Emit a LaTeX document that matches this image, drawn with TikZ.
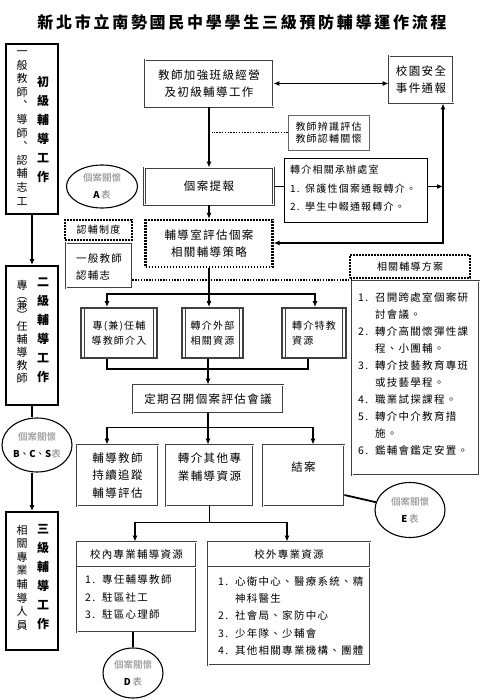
\documentclass[tikz,border=0pt]{standalone}
\usepackage{fontspec}
\setmainfont{Noto Sans CJK TC}
\newfontfamily\wide{Noto Sans CJK TC}[LetterSpace=12]
\newfontfamily\titlefont{Noto Sans CJK TC}[LetterSpace=17]
\usetikzlibrary{shapes.geometric,arrows.meta}

\tikzset{
  conn/.style={line width=1.8pt},
  arr/.style={conn,-{Latex[length=6pt,width=5pt]}},
  darr/.style={conn,{Latex[length=6pt,width=5pt]}-{Latex[length=6pt,width=5pt]}},
  dotline/.style={line width=1.8pt, dash pattern=on 1.4pt off 1.4pt},
  dotbox/.style={draw, line width=2.2pt, dash pattern=on 1.6pt off 1.4pt, inner sep=0, align=center},
  dline/.style={draw=black!75, line width=0.8pt, double=white, double distance=1pt},
  dbox/.style={dline, inner sep=0, align=center},
  lbox/.style={draw, line width=1.8pt, minimum width=52, inner sep=0},
  tbox/.style={draw, line width=0.6pt, inner sep=0, align=center},
  pbox/.style={draw=black!75, line width=1.8pt, inner sep=0, align=center,
    path picture={
      \draw[line width=0.8pt]
        ([xshift=3.5pt]path picture bounding box.north west) -- ([xshift=3.5pt]path picture bounding box.south west)
        ([xshift=-3.5pt]path picture bounding box.north east) -- ([xshift=-3.5pt]path picture bounding box.south east);
    }},
  case/.style={ellipse, draw, line width=1.1pt, inner sep=0, align=center, font=\fontsize{9.5}{17}\selectfont},
  vcol/.style={inner sep=0, align=center},
  boxtext/.style={font=\wide\fontsize{11.5}{17}\selectfont},
  listtext/.style={inner sep=0, anchor=west, font=\wide\fontsize{10.5}{17}\selectfont},
}

\begin{document}
\begin{tikzpicture}[x=1pt, y=-1pt]
  \useasboundingbox (0,0) rectangle (484,700);

  \node[font=\titlefont\bfseries\fontsize{16}{16}\selectfont] (title) at (242,22) {新北市立南勢國民中學學生三級預防輔導運作流程};

  % left column
  \node[lbox, minimum height=170] (lev1) at (32,129) {};
  \node[vcol, font=\fontsize{11}{13.6}\selectfont] (lev1a) at (22,128) {一\\般\\教\\師\\︑\\導\\師\\︑\\認\\輔\\志\\工};
  \node[vcol, font=\bfseries\fontsize{12}{19}\selectfont] (lev1b) at (43,129.5) {初\\級\\輔\\導\\工\\作};

  \node[lbox, minimum height=139] (lev2) at (32,335.5) {};
  \node[vcol, font=\fontsize{11}{13.2}\selectfont] (lev2a) at (22,332) {專\\[-3pt]︵\\[-3pt]兼\\[-3pt]︶\\[-3pt]任\\輔\\導\\教\\師};
  \node[vcol, font=\bfseries\fontsize{12}{19}\selectfont] (lev2b) at (43,330.5) {二\\級\\輔\\導\\工\\作};

  \node[lbox, minimum height=138] (lev3) at (32,581) {};
  \node[vcol, font=\fontsize{11}{13.6}\selectfont] (lev3a) at (22,577.5) {相\\關\\專\\業\\輔\\導\\人\\員};
  \node[vcol, font=\bfseries\fontsize{12}{19}\selectfont] (lev3b) at (43,577.5) {三\\級\\輔\\導\\工\\作};

  \node[case, minimum width=71, minimum height=43] (caseA) at (102,186.5) {{\color{black!50}個案關懷}\\\textbf{A}\,{\color{black!50}表}};
  \node[case, minimum width=70, minimum height=54] (caseBCS) at (37,445) {{\color{black!50}個案關懷}\\\textbf{B}、\textbf{C}、\textbf{S}{\color{black!50}表}};
  \node[case, minimum width=60, minimum height=50] (caseD) at (133,673) {{\color{black!50}個案關懷}\\\textbf{D}\,{\color{black!50}表}};
  \node[case, minimum width=70, minimum height=55] (caseE) at (410,510) {{\color{black!50}個案關懷}\\\textbf{E}\,{\color{black!50}表}};

  % first level
  \node[dbox, boxtext, minimum width=128, minimum height=47] (teach) at (209,83.5) {教師加強班級經營\\及初級輔導工作};
  \node[dbox, boxtext, minimum width=64, minimum height=47] (alert) at (421,79.5) {校園安全\\事件通報};
  \node[tbox, draw=black!60, minimum width=81, minimum height=35, font=\wide\fontsize{10}{12.5}\selectfont] (ident) at (328.5,132.5) {教師辨識評估\\教師認輔關懷};
  \node[dbox, boxtext, minimum width=129, minimum height=37] (report) at (209,186.5) {個案提報};
  \node[tbox, minimum width=143, minimum height=64] (refer) at (355.5,190) {};
  \node[listtext, font=\wide\fontsize{10}{18.5}\selectfont] (refertxt) at (290,188.5) {\begin{tabular}{@{}p{15pt}@{}l@{}}
    \multicolumn{2}{@{}l@{}}{轉介相關承辦處室}\\
    1. & 保護性個案通報轉介。\\
    2. & 學生中輟通報轉介。
  \end{tabular}};

  % second level
  \node[dotbox, boxtext, minimum width=127, minimum height=47] (guide) at (209,243.5) {輔導室評估個案\\相關輔導策略};
  \node[dotbox, minimum width=67, minimum height=20, font=\wide\fontsize{10}{12}\selectfont] (adopt) at (98.5,230) {認輔制度};
  \node[dbox, minimum width=66, minimum height=45] (volun) at (99,265.5) {};
  \node[listtext, align=left] (voluntxt) at (76,266.5) {一般教師\\認輔志};

  \node[pbox, minimum width=76, minimum height=50, font=\wide\fontsize{10}{15.5}\selectfont] (mentor) at (119,333) {專(兼)任輔\\導教師介入};
  \node[pbox, minimum width=61, minimum height=50, font=\wide\fontsize{10}{15.5}\selectfont] (outside) at (212.5,333) {轉介外部\\相關資源};
  \node[pbox, minimum width=64, minimum height=50, font=\wide\fontsize{10}{15.5}\selectfont, align=left] (special) at (314,333) {轉介特教\\資源};

  \node[dotbox, minimum width=120, minimum height=23, font=\wide\fontsize{10}{12}\selectfont] (plan) at (410,266.5) {相關輔導方案};
  \node[dbox, minimum width=127, minimum height=194] (planbox) at (415.5,378) {};
  \node[listtext] (plantxt) at (358,375) {\begin{tabular}{@{}p{17pt}@{}l@{}}
    1. & 召開跨處室個案研\\
       & 討會議。\\
    2. & 轉介高關懷彈性課\\
       & 程、小團輔。\\
    3. & 轉介技藝教育專班\\
       & 或技藝學程。\\
    4. & 職業試探課程。\\
    5. & 轉介中介教育措\\
       & 施。\\
    6. & 鑑輔會鑑定安置。
  \end{tabular}};

  \node[dbox, boxtext, minimum width=150, minimum height=28] (meet) at (208,399) {定期召開個案評估會議};
  \node[dbox, boxtext, minimum width=81, minimum height=61, font=\wide\fontsize{11.5}{17.5}\selectfont] (track) at (117.5,475.5) {輔導教師\\持續追蹤\\輔導評估};
  \node[dbox, boxtext, minimum width=87, minimum height=61, font=\wide\fontsize{11.5}{17.5}\selectfont] (other) at (209.5,475.5) {轉介其他專\\業輔導資源\\\mbox{}};
  \node[dbox, boxtext, minimum width=81, minimum height=61, font=\wide\fontsize{11.5}{17.5}\selectfont] (close) at (303.5,475.5) {結案\\\mbox{}};

  % third level
  \node[dbox, minimum width=119, minimum height=90] (inner) at (136.5,587) {};
  \node[font=\wide\fontsize{10.5}{12}\selectfont, inner sep=0] (innerhd) at (136.5,554.5) {校內專業輔導資源};
  \draw[dline] (inner.west |- 0,567) -- (inner.east |- 0,567);
  \node[listtext, font=\wide\fontsize{10.5}{17.5}\selectfont] (innertxt) at (85,597.5) {\begin{tabular}{@{}p{17pt}@{}l@{}}
    1. & 專任輔導教師\\
    2. & 駐區社工\\
    3. & 駐區心理師
  \end{tabular}};

  \node[dbox, minimum width=162, minimum height=123] (outer) at (289,603.5) {};
  \node[font=\wide\fontsize{10.5}{12}\selectfont, inner sep=0] (outerhd) at (289,554.5) {校外專業資源};
  \draw[dline] (outer.west |- 0,567) -- (outer.east |- 0,567);
  \node[listtext, font=\wide\fontsize{10.5}{17.3}\selectfont] (outertxt) at (218,616.5) {\begin{tabular}{@{}p{17pt}@{}l@{}}
    1. & 心衛中心、醫療系統、精\\
       & 神科醫生\\
    2. & 社會局、家防中心\\
    3. & 少年隊、少輔會\\
    4. & 其他相關專業機構、團體
  \end{tabular}};

  % connectors
  \draw[arr] (lev1.south) -- (lev2.north);
  \draw[conn] (lev2.south) -- (lev2.south |- caseBCS.north);
  \draw[arr] (lev3.north |- caseBCS.south) -- (lev3.north);

  \draw[darr] (teach.east) -- (teach.east -| alert.west);
  \draw[arr] (teach.south) -- (report.north);
  \draw[dotline] (ident.west) -- ([xshift=3]ident.west -| teach.south);
  \draw[conn] (report.east) -- (report.east -| refer.west);
  \coordinate (vr) at (443,243);
  \draw[arr] (report.east -| refer.east) -- (report.east -| vr);
  \draw[darr] (alert.south -| vr) -- (vr) -- (vr -| guide.east);
  \draw[arr] (report.south) -- (guide.north);

  \coordinate (dl) at ([yshift=-14.5]volun.east);
  \draw[dotline] (dl) -- (dl -| planbox.west);

  \coordinate (fan1) at ([yshift=-26]guide.south);
  \draw[conn] (guide.south) -- (fan1);
  \draw[arr] (fan1) -| ([xshift=-12]mentor.north);
  \draw[arr] (fan1) -| ([xshift=1]special.north);
  \draw[arr] (fan1) -- (fan1 |- outside.north);

  \coordinate (fin1) at ([yshift=-10]outside.south);
  \draw[conn] ([xshift=-12]mentor.south) |- (fin1) -| ([xshift=-6]special.south);
  \draw[arr] (outside.south -| meet.north) -- (meet.north);

  \coordinate (fan2) at ([yshift=-14]meet.south);
  \draw[conn] (meet.south) -- (fan2);
  \draw[arr] (fan2) -| ([xshift=-10.5]track.north);
  \draw[arr] (fan2) -| ([xshift=9.5]close.north);
  \draw[arr] (fan2) -- (fan2 |- other.north);

  \draw[conn] ([yshift=-19.5]close.east) -- (caseE);

  \coordinate (fan3) at ([yshift=-16]other.south);
  \draw[conn] (other.south) -- (fan3);
  \draw[arr] (fan3) -| ([xshift=-1.5]inner.north);
  \draw[arr] (fan3) -| ([xshift=-2]outer.north);
  \draw[conn] (caseD.north |- inner.south) -- (caseD.north);
\end{tikzpicture}
\end{document}
